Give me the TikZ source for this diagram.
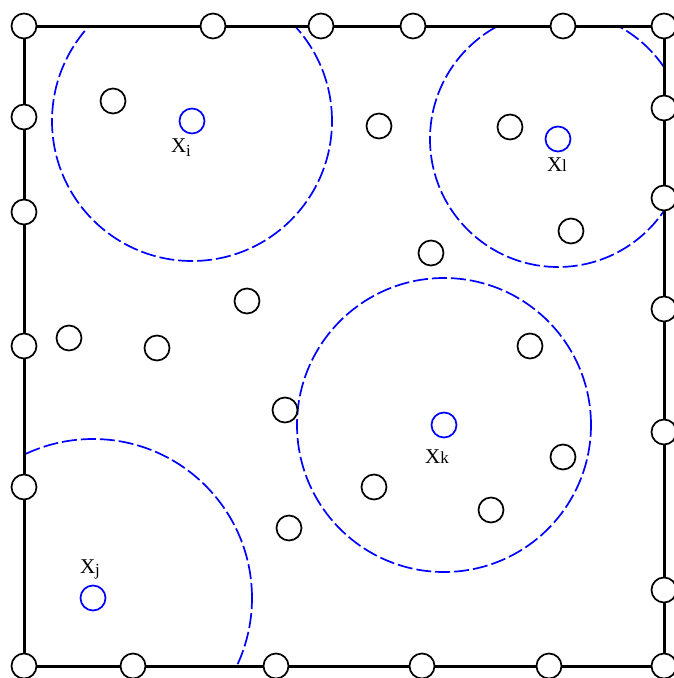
\documentclass[tikz,border=0pt]{standalone}
\usepackage{fontspec}
\setmainfont{Liberation Serif}
\newcommand{\lowsub}[2]{\raisebox{#1}{\fontsize{17}{17}\selectfont #2}}
\begin{document}
\begin{tikzpicture}[x=1pt,y=-1pt,
  pt/.style={circle,draw=black,fill=white,line width=1.7pt,minimum size=25pt,inner sep=0pt},
  ctr/.style={circle,draw=blue,fill=white,line width=1.7pt,minimum size=25pt,inner sep=0pt},
  rng/.style={draw=blue,line width=1.7pt,dash pattern=on 15pt off 4pt},
  lbl/.style={font=\fontsize{21}{21}\selectfont,inner sep=0pt}]
\useasboundingbox (0,0) rectangle (673,678);
% frame corners
\coordinate (TL) at (24,26);
\coordinate (TR) at (664,26);
\coordinate (BR) at (664,666);
\coordinate (BL) at (24,666);
% dashed ranges, clipped to the square
\begin{scope}
\clip (TL) rectangle (BR);
\draw[rng] (192,121) circle[radius=140pt];
\draw[rng] (558,139) circle[radius=128pt];
\draw[rng] (444,425) circle[radius=147pt];
\draw[rng] (93,598) circle[radius=159pt];
\end{scope}
\draw[line width=3pt] (TL) -- (TR) -- (BR) -- (BL) -- cycle;
% boundary points
\foreach \x [count=\i] in {24,213,321,413,563,664} \node[pt] (t\i) at (\x,26) {};
\foreach \y [count=\i] in {117,212,346,487} \node[pt] (l\i) at (24,\y) {};
\foreach \y [count=\i] in {108,198,309,432,590} \node[pt] (r\i) at (664,\y) {};
\foreach \x [count=\i] in {24,133,276,422,549,664} \node[pt] (b\i) at (\x,666) {};
% interior points
\node[pt] (p1) at (113,101) {};
\node[pt] (p2) at (379,126) {};
\node[pt] (p3) at (510,127) {};
\node[pt] (p4) at (571,231) {};
\node[pt] (p5) at (431,253) {};
\node[pt] (p6) at (247,301) {};
\node[pt] (p7) at (69,338) {};
\node[pt] (p8) at (157,348) {};
\node[pt] (p9) at (530,346) {};
\node[pt] (p10) at (285,410) {};
\node[pt] (p11) at (563,457) {};
\node[pt] (p12) at (374,487) {};
\node[pt] (p13) at (491,510) {};
\node[pt] (p14) at (289,528) {};
% centres
\node[ctr] (xi) at (192,121) {};
\node[ctr] (xl) at (558,139) {};
\node[ctr] (xk) at (444,425) {};
\node[ctr] (xj) at (93,598) {};
% labels
\node[lbl,anchor=base] (lxi) at (181,152) {X\lowsub{-4pt}{i}};
\node[lbl,anchor=base] (lxl) at (557,171) {X\lowsub{0pt}{l}};
\node[lbl,anchor=base] (lxk) at (437,463) {X\lowsub{0pt}{k}};
\node[lbl,anchor=base] (lxj) at (90,573) {X\lowsub{-2pt}{j}};
\end{tikzpicture}
\end{document}
